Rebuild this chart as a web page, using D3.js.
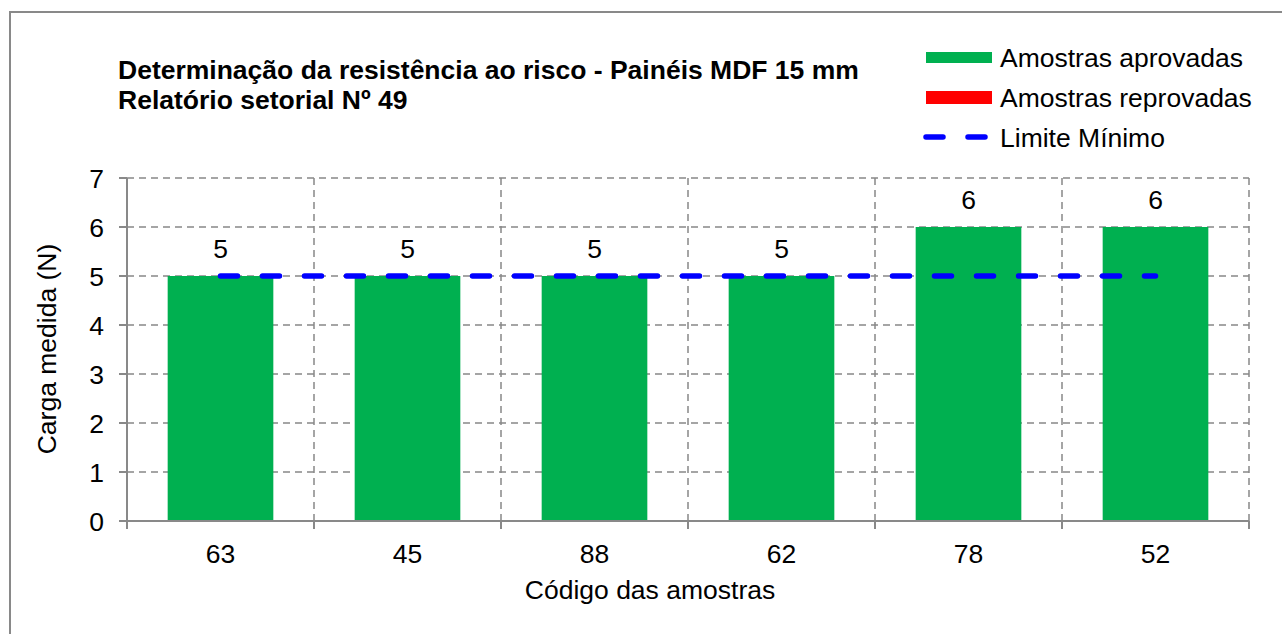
<!DOCTYPE html>
<html><head><meta charset="utf-8">
<script src="https://cdn.jsdelivr.net/npm/d3@7"></script>
<style>body{margin:0;background:#fff}svg{display:block}</style>
</head><body>
<svg id="c" width="1282" height="634"></svg>
<script>
const categories = ["63","45","88","62","78","52"];
const approved = [5,5,5,5,6,6];
const limit = [5,5,5,5,5,5];
const yTicks = [0,1,2,3,4,5,6,7];
const titleLines = ["Determinação da resistência ao risco - Painéis MDF 15 mm","Relatório setorial Nº 49"];
const legendLabels = ["Amostras aprovadas","Amostras reprovadas","Limite Mínimo"];

(function(){
const svg = d3.select("#c");
const font = "'Liberation Sans', Arial, sans-serif";
const fs = 26.5;
const pL = 127, pR = 1249, pT = 178, pB = 521;
const x = d3.scaleBand().domain(categories).range([pL, pR]).paddingInner(0.435).paddingOuter(0.2175);
const xb = d3.scaleBand().domain(categories).range([pL, pR]);
const y = d3.scaleLinear().domain([0,7]).range([pB, pT]);

// frame
svg.append("rect").attr("x",10).attr("y",12).attr("width",1290).attr("height",640)
  .attr("fill","none").attr("stroke","#898989").attr("stroke-width",2);

const grid = svg.append("g").attr("stroke","#888").attr("stroke-width",1.5).attr("stroke-dasharray","7,5");
yTicks.filter(d=>d>0).forEach(d=>{
  grid.append("line").attr("x1",pL).attr("x2",pR).attr("y1",y(d)).attr("y2",y(d));
});
categories.forEach((c,i)=>{
  grid.append("line").attr("x1",xb(c)+xb.bandwidth()).attr("x2",xb(c)+xb.bandwidth()).attr("y1",pT).attr("y2",pB);
});

// bars
svg.append("g").selectAll("rect").data(approved).join("rect")
  .attr("x",(d,i)=>x(categories[i])).attr("width",x.bandwidth())
  .attr("y",d=>y(d)).attr("height",d=>y(0)-y(d)).attr("fill","#00b050");

// axes
const ax = svg.append("g").attr("stroke","#898989").attr("stroke-width",2);
ax.append("line").attr("x1",pL).attr("x2",pL).attr("y1",pT).attr("y2",pB+1);
ax.append("line").attr("x1",pL-8).attr("x2",pR).attr("y1",pB).attr("y2",pB);
yTicks.forEach(d=>ax.append("line").attr("x1",pL-8).attr("x2",pL).attr("y1",y(d)).attr("y2",y(d)));
[pL].concat(categories.map(c=>xb(c)+xb.bandwidth())).forEach(v=>
  ax.append("line").attr("x1",v).attr("x2",v).attr("y1",pB).attr("y2",pB+8));

// limit line
const line = d3.line().x((d,i)=>xb(categories[i])+xb.bandwidth()/2).y(d=>y(d));
svg.append("path").datum(limit).attr("d",line).attr("fill","none")
  .attr("stroke","#0000ff").attr("stroke-width",5.5).attr("stroke-linecap","round")
  .attr("stroke-dasharray","17,25");

// labels
svg.append("g").selectAll("text").data(approved).join("text")
  .attr("x",(d,i)=>xb(categories[i])+xb.bandwidth()/2).attr("y",d=>y(d)-18)
  .attr("text-anchor","middle").attr("font-family",font).attr("font-size",fs).text(d=>d);

svg.append("g").selectAll("text").data(yTicks).join("text")
  .attr("x",104).attr("y",d=>y(d)+9.5).attr("text-anchor","end")
  .attr("font-family",font).attr("font-size",fs).text(d=>d);
svg.append("g").selectAll("text").data(categories).join("text")
  .attr("x",c=>xb(c)+xb.bandwidth()/2).attr("y",563).attr("text-anchor","middle")
  .attr("font-family",font).attr("font-size",fs).text(c=>c);

svg.append("text").attr("x",650).attr("y",599).attr("text-anchor","middle")
  .attr("font-family",font).attr("font-size",fs).text("Código das amostras");
svg.append("text").attr("transform","translate(56,349) rotate(-90)").attr("text-anchor","middle")
  .attr("font-family",font).attr("font-size",fs).text("Carga medida (N)");

// title
titleLines.forEach((t,i)=>{
  svg.append("text").attr("x",118).attr("y",79+i*30)
    .attr("font-family",font)
    .attr("font-weight","bold").attr("font-size",26.5).text(t);
});

// legend
const lg = svg.append("g");
const rowY = [57,97,137];
lg.append("rect").attr("x",926).attr("y",rowY[0]-5).attr("width",66).attr("height",11).attr("fill","#00b050");
lg.append("rect").attr("x",926).attr("y",rowY[1]-6).attr("width",66).attr("height",13).attr("fill","#ff0000");
lg.append("line").attr("x1",926).attr("x2",988).attr("y1",rowY[2]).attr("y2",rowY[2])
  .attr("stroke","#0000ff").attr("stroke-width",5.5).attr("stroke-linecap","round").attr("stroke-dasharray","17,25");
legendLabels.forEach((t,i)=>{
  lg.append("text").attr("x",1000).attr("y",rowY[i]+9.5).attr("font-family",font).attr("font-size",fs).text(t);
});
})();
</script>
</body></html>
